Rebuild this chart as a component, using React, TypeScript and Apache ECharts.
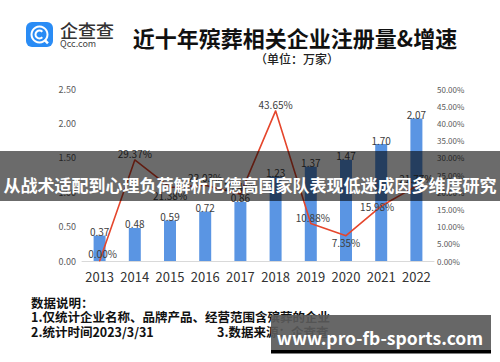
import React, { useEffect, useRef } from "react";
import * as echarts from "echarts";

const years = ["2013", "2014", "2015", "2016", "2017", "2018", "2019", "2020", "2021", "2022"];
const registrations = [0.37, 0.48, 0.59, 0.72, 0.86, 1.23, 1.37, 1.47, 1.7, 2.07];
const growthRates = [0.0, 29.37, 21.38, 22.03, 19.44, 43.65, 10.88, 7.35, 15.98, 21.77];
const growthLabelOffsets: [number, number][] = [
  [3, -8], [0, -6], [0, 8], [0, -8], [0, -8], [0, -6], [2, -6], [0, 7], [-4, 0], [0, -8],
];
const noteLines = ["数据说明：", "1.仅统计企业名称、品牌产品、经营范围含殡葬的企业", "2.统计时间2023/3/31"];
const sourceNote = "3.数据来源：企查查";
const titleText = "近十年殡葬相关企业注册量&增速";
const unitText = "（单位：万家）";
const bannerText = "从战术适配到心理负荷解析厄德高国家队表现低迷成因多维度研究";
const watermarkText = "www.pro-fb-sports.com";

const FONT = "'Noto Sans CJK SC', 'Noto Sans', sans-serif";

export default function App() {
  const ref = useRef<HTMLDivElement>(null);
  useEffect(() => {
    if (!ref.current) return;
    const chart = echarts.init(ref.current, null, { renderer: "svg" });
    chart.setOption({
      animation: false,
      backgroundColor: "#ffffff",
      textStyle: { fontFamily: FONT },
      grid: { left: 82, right: 66, top: 89, bottom: 101, containLabel: false },
      xAxis: {
        type: "category",
        data: years,
        axisLine: { show: true, lineStyle: { color: "#d9d9d9", width: 1 } },
        axisTick: { show: false },
        axisLabel: { color: "#333333", fontSize: 13, margin: 9, interval: 0, fontFamily: FONT },
      },
      yAxis: [
        {
          type: "value",
          min: 0,
          max: 2.5,
          interval: 0.5,
          axisLine: { show: false },
          axisTick: { show: false },
          splitLine: { show: false },
          axisLabel: {
            color: "#595959",
            fontSize: 9,
            margin: 6,
            formatter: (v: number) => v.toFixed(2),
          },
        },
        {
          type: "value",
          min: 0,
          max: 50,
          interval: 5,
          position: "right",
          axisLine: { show: false },
          axisTick: { show: false },
          splitLine: { show: false },
          axisLabel: {
            color: "#595959",
            fontSize: 8,
            margin: 3,
            formatter: (v: number) => v.toFixed(2) + "%",
          },
        },
      ],
      series: [
        {
          type: "bar",
          data: registrations,
          barWidth: 12,
          itemStyle: { color: "#5a95e3" },
          label: {
            show: true,
            position: "top",
            distance: -1,
            color: "#404040",
            fontSize: 10,
            formatter: (p: any) => Number(p.value).toFixed(2),
          },
          z: 2,
        },
        {
          type: "line",
          yAxisIndex: 1,
          data: growthRates.map((v, i) => ({
            value: v,
            label: { offset: growthLabelOffsets[i] },
          })),
          symbol: "circle",
          symbolSize: 1,
          itemStyle: { color: "#e5462c" },
          lineStyle: { color: "#e5462c", width: 1.6 },
          label: {
            show: true,
            position: "inside",
            color: "#404040",
            fontSize: 10,
            formatter: (p: any) => Number(p.value).toFixed(2) + "%",
          },
          z: 3,
        },
      ],
      graphic: [
        { type: "rect", shape: { x: 26, y: 22, width: 27, height: 25, r: 6 }, style: { fill: "#2a8cf5" }, z: 10 },
        { type: "ring", shape: { cx: 39.5, cy: 34.5, r: 9, r0: 7 }, style: { fill: "#ffffff" }, z: 11 },
        {
          type: "arc",
          shape: { cx: 39.5, cy: 34.5, r: 4, startAngle: Math.PI * 0.25, endAngle: Math.PI * 1.75, clockwise: true },
          style: { stroke: "#ffffff", lineWidth: 2, fill: null },
          z: 11,
        },
        { type: "rect", shape: { x: 44, y: 40, width: 5, height: 2.5 }, rotation: -Math.PI / 4, originX: 46, originY: 41, style: { fill: "#ffffff" }, z: 11 },
        {
          type: "text",
          x: 60,
          y: 30,
          style: { text: "企查查", fill: "#333333", font: `500 18px ${FONT}`, textVerticalAlign: "middle" },
          z: 10,
        },
        {
          type: "text",
          x: 60,
          y: 43,
          style: { text: "Qcc.com", fill: "#444444", font: `9px ${FONT}`, textVerticalAlign: "middle" },
          z: 10,
        },
        {
          type: "text",
          x: 295,
          y: 37,
          style: { text: titleText, fill: "#111111", font: `bold 22px ${FONT}`, textAlign: "center", textVerticalAlign: "middle" },
          z: 10,
        },
        {
          type: "text",
          x: 297,
          y: 58,
          style: { text: unitText, fill: "#222222", font: `500 12px ${FONT}`, textAlign: "center", textVerticalAlign: "middle" },
          z: 10,
        },
        ...noteLines.map((t, i) => ({
          type: "text",
          x: 31,
          y: [302, 316, 331][i],
          style: { text: t, fill: "#111111", font: `bold 12.5px ${FONT}`, textVerticalAlign: "middle" },
          z: 10,
        })),
        {
          type: "text",
          x: 217,
          y: 331,
          style: { text: sourceNote, fill: "#111111", font: `bold 12.5px ${FONT}`, textVerticalAlign: "middle" },
          z: 10,
        },
        { type: "rect", shape: { x: 0, y: 151, width: 500, height: 50 }, style: { fill: "rgba(0,0,0,0.58)" }, z: 100 },
        {
          type: "text",
          x: 250,
          y: 184,
          style: { text: bannerText, fill: "#ffffff", font: `bold 17px ${FONT}`, textAlign: "center", textVerticalAlign: "middle" },
          z: 101,
        },
        { type: "rect", shape: { x: 271, y: 315, width: 220, height: 36 }, style: { fill: "rgba(90,90,90,0.92)" }, z: 100 },
        { type: "rect", shape: { x: 271, y: 350, width: 220, height: 3.5 }, style: { fill: "#000000" }, z: 100 },
        {
          type: "text",
          x: 380,
          y: 337,
          style: { text: watermarkText, fill: "#ffffff", font: `bold 17.5px ${FONT}`, textAlign: "center", textVerticalAlign: "middle" },
          z: 101,
        },
      ],
    });
    return () => chart.dispose();
  }, []);
  return <div ref={ref} style={{ position: "fixed", left: 0, top: 0, width: 500, height: 362 }} />;
}
